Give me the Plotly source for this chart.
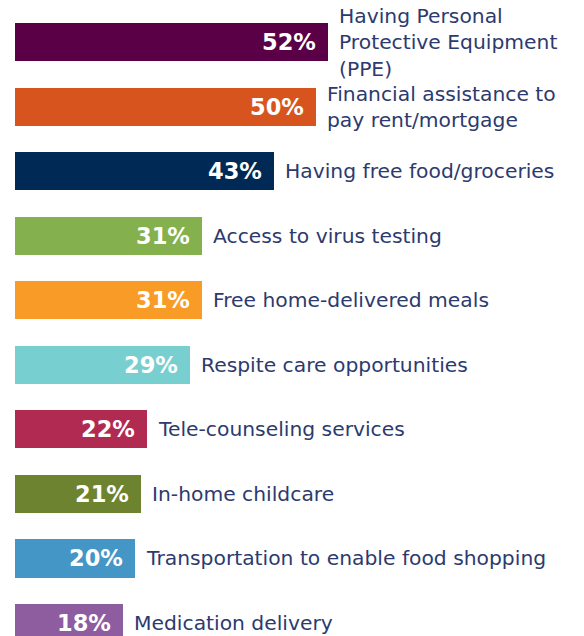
import plotly.graph_objects as go

categories = [
    "Having Personal<br>Protective Equipment<br>(PPE)",
    "Financial assistance to<br>pay rent/mortgage",
    "Having free food/groceries",
    "Access to virus testing",
    "Free home-delivered meals",
    "Respite care opportunities",
    "Tele-counseling services",
    "In-home childcare",
    "Transportation to enable food shopping",
    "Medication delivery",
]
values = [52, 50, 43, 31, 31, 29, 22, 21, 20, 18]
colors = ["#5a0047", "#d8541f", "#002a55", "#84b04e", "#f99b27",
          "#77cfcf", "#b12a52", "#6d8330", "#4396c6", "#8e5da0"]

idx = list(range(len(categories)))

fig = go.Figure(go.Bar(
    x=values, y=idx, orientation="h",
    marker=dict(color=colors, line=dict(width=0)),
    width=0.59, hoverinfo="skip",
))

annotations = []
for i, (c, v) in enumerate(zip(categories, values)):
    annotations.append(dict(
        x=v, y=i, xref="x", yref="y", text=c, showarrow=False,
        xanchor="left", yanchor="middle", xshift=9, align="left",
        font=dict(family="DejaVu Sans", size=20.3, color="#2c3a6e"),
    ))
    annotations.append(dict(
        x=v, y=i, xref="x", yref="y", text=f"{v}%", showarrow=False,
        xanchor="right", yanchor="middle", xshift=-10,
        font=dict(family="DejaVu Sans", size=22.5, color="#ffffff", weight=700),
    ))

W, H = 584, 636
left = 15
px_per_unit = 313 / 52
top_center = 42
step = 64.56
fig.update_layout(
    width=W, height=H,
    margin=dict(l=left, r=0, t=0, b=0),
    paper_bgcolor="white", plot_bgcolor="white",
    showlegend=False,
    xaxis=dict(range=[0, (W - left) / px_per_unit], visible=False, fixedrange=True),
    yaxis=dict(range=[(H - top_center) / step, -top_center / step], visible=False, fixedrange=True),
    annotations=annotations,
    bargap=0,
)

fig.write_html("out.html", config={"displayModeBar": False},
               post_script="document.body.style.margin='0px';")
